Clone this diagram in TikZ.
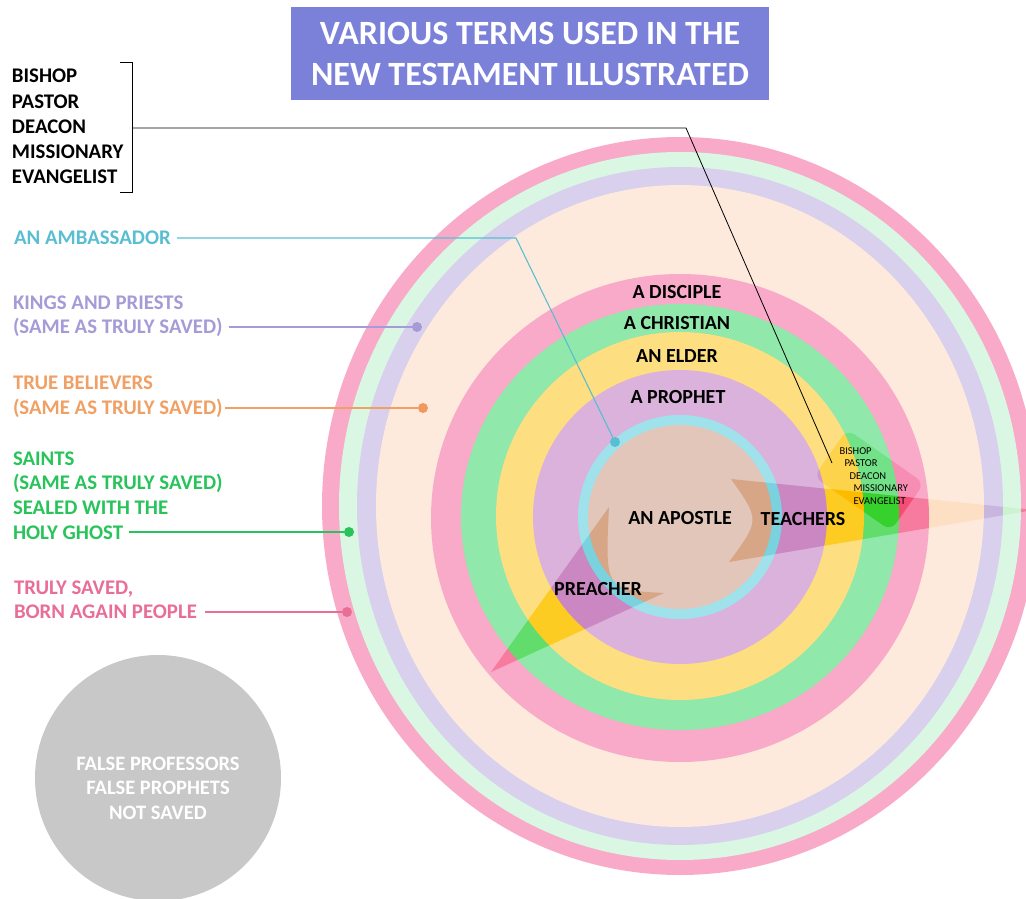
\documentclass[tikz,border=0pt]{standalone}
\usepackage{fontspec}
\setmainfont{Carlito}
\usepackage{xcolor}

\definecolor{pinkband}{RGB}{248,170,200}
\definecolor{mintband}{RGB}{218,247,228}
\definecolor{lavband}{RGB}{216,208,236}
\definecolor{peachband}{RGB}{253,234,221}
\definecolor{greenband}{RGB}{144,232,170}
\definecolor{yellowband}{RGB}{253,222,128}
\definecolor{purpleband}{RGB}{218,178,220}
\definecolor{blueband}{RGB}{160,226,236}
\definecolor{brownband}{RGB}{226,198,186}
\definecolor{burncol}{RGB}{180,163,146}
\definecolor{boxcol}{RGB}{200,190,180}
\definecolor{titlecol}{RGB}{123,129,217}
\definecolor{graycol}{RGB}{200,200,200}
\definecolor{ambcol}{RGB}{90,190,210}
\definecolor{kingcol}{RGB}{165,155,215}
\definecolor{truecol}{RGB}{240,160,100}
\definecolor{saintcol}{RGB}{40,195,90}
\definecolor{savedcol}{RGB}{232,110,150}

\newcommand{\lblfont}{\bfseries\fontsize{20.8}{24}\selectfont}
\newcommand\dotnode[2]{node[circle, minimum size=10pt, inner sep=0pt, outer sep=0pt, fill=#1] (#2) {}}

\begin{document}
\begin{tikzpicture}[x=1pt, y=-1pt, line width=1.1pt,
        lbl/.style={font=\lblfont, inner sep=0pt, outer sep=0pt, anchor=base west},
        ringlbl/.style={font=\bfseries\fontsize{20}{24}\selectfont, inner sep=0pt, outer sep=0pt},
        smalllbl/.style={font=\fontsize{10.5}{12}\selectfont, inner sep=0pt, anchor=west}]
    \useasboundingbox (0,0) rectangle (1026,899);

    % Внешние кольца
    \fill[pinkband] (680,506) ellipse [x radius=358, y radius=369];
    \fill[mintband] (680,506) ellipse [x radius=341, y radius=354];
    \fill[lavband] (680,506) ellipse [x radius=323, y radius=339];
    \fill[peachband] (680,506) ellipse [x radius=304, y radius=321];

    % Внутренние круги
    \fill[pinkband] (680,518) ellipse [x radius=249, y radius=244];
    \fill[greenband] (680,517) ellipse [x radius=219, y radius=213];
    \fill[yellowband] (680,516) circle [radius=184];
    \fill[purpleband] (680,517) circle [radius=147];
    \fill[blueband] (680,517) circle [radius=102];
    \fill[brownband] (680,517) circle [radius=92];

    % Стрелки
    \begin{scope}[blend mode=color burn]
        \fill[burncol] (731,479) -- (1034,510) -- (729,562)
            .. controls (760,520) .. (731,479) -- cycle;
        \fill[burncol] (609,507) .. controls (605,590) .. (664,593)
            -- (491,672) -- cycle;
        \node[fill=boxcol, rounded corners=9pt, rotate=-35,
            minimum width=94pt, minimum height=58pt] (rolebox) at (869,480) {};
    \end{scope}

    % Подписи в кругах
    \node[ringlbl] (disciple) at (677,292) {A DISCIPLE};
    \node[ringlbl] (christian) at (677,323) {A CHRISTIAN};
    \node[ringlbl] (elder) at (677,356) {AN ELDER};
    \node[ringlbl] (prophet) at (678,397) {A PROPHET};
    \node[ringlbl] (apostle) at (680,518) {AN APOSTLE};
    \node[ringlbl] (teachers) at (803,519) {TEACHERS};
    \node[ringlbl] (preacher) at (598,589) {PREACHER};

    \node[smalllbl] (rbishop) at (839,451) {BISHOP};
    \node[smalllbl] (rpastor) at (844,463) {PASTOR};
    \node[smalllbl] (rdeacon) at (849,476) {DEACON};
    \node[smalllbl] (rmission) at (853,488) {MISSIONARY};
    \node[smalllbl] (revang) at (853,501) {EVANGELIST};
    \coordinate (rolestip) at (832,463);

    % Заголовок
    \node[fill=titlecol, text=white, align=center, minimum width=478pt, minimum height=93pt,
        font=\bfseries\fontsize{34}{41}\selectfont] (title) at (530,53.5)
        {VARIOUS TERMS USED IN THE\\NEW TESTAMENT ILLUSTRATED};

    % Список слева
    \node[lbl] (bishop) at (12,83) {BISHOP};
    \node[lbl] (pastor) at (12,108) {PASTOR};
    \node[lbl] (deacon) at (12,133) {DEACON};
    \node[lbl] (mission) at (12,158) {MISSIONARY};
    \node[lbl] (evang) at (12,183) {EVANGELIST};
    \draw[line width=0.9pt] (120,62) -- (132,62) -- (132,192) -- (120,192);
    \coordinate (listmid) at (132,128);
    \coordinate (listbend) at (686,128);
    \draw[line width=0.8pt] (listmid) -- (listbend) -- (rolestip);

    % Подписи слева
    \node[lbl, text=ambcol] (amb) at (14,244) {AN AMBASSADOR};
    \node[lbl, text=kingcol] (kings) at (13,309) {KINGS AND PRIESTS};
    \node[lbl, text=kingcol] (kingsb) at (13,333) {(SAME AS TRULY SAVED)};
    \node[lbl, text=truecol] (true) at (13,389) {TRUE BELIEVERS};
    \node[lbl, text=truecol] (trueb) at (13,414) {(SAME AS TRULY SAVED)};
    \node[lbl, text=saintcol] (saints) at (13,465) {SAINTS};
    \node[lbl, text=saintcol] (saintsb) at (13,489) {(SAME AS TRULY SAVED)};
    \node[lbl, text=saintcol] (saintsc) at (13,514) {SEALED WITH THE};
    \node[lbl, text=saintcol] (saintsd) at (13,539) {HOLY GHOST};
    \node[lbl, text=savedcol] (saved) at (14,594) {TRULY SAVED,};
    \node[lbl, text=savedcol] (savedb) at (14,618) {BORN AGAIN PEOPLE};

    % Точки и выноски
    \path (615,442) \dotnode{ambcol}{ambdot}
        (417,327) \dotnode{kingcol}{kingdot}
        (423,408) \dotnode{truecol!95!red}{truedot}
        (349,532) \dotnode{saintcol}{saintdot}
        (347,612) \dotnode{savedcol}{saveddot};
    \coordinate (ambbend) at (516,238);
    \draw[ambcol] ([xshift=6pt]ambbend -| amb.east) -- (ambbend) -- (ambdot);
    \draw[kingcol] ([xshift=6pt]kingdot -| kingsb.east) -- (kingdot);
    \draw[truecol] ([xshift=2pt]truedot -| trueb.east) -- (truedot);
    \draw[saintcol] ([xshift=6pt]saintdot -| saintsd.east) -- (saintdot);
    \draw[savedcol] ([xshift=8pt]saveddot -| savedb.east) -- (saveddot);

    % Серый круг
    \fill[graycol] (158,778) circle [radius=123];
    \node[text=white, align=center, inner sep=0pt,
        font=\bfseries\fontsize{20.5}{24.5}\selectfont] (unsaved) at (158,788)
        {FALSE PROFESSORS\\FALSE PROPHETS\\NOT SAVED};
\end{tikzpicture}
\end{document}
